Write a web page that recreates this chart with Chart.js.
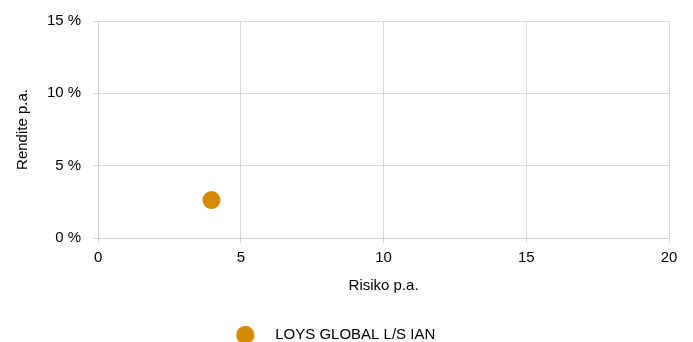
<!DOCTYPE html>
<html>
<head>
<meta charset="utf-8">
<script src="https://cdn.jsdelivr.net/npm/chart.js@4"></script>
<style>
  html, body { margin: 0; padding: 0; background: #fff; }
  #wrap { width: 693px; height: 342px; }
</style>
</head>
<body>
<div id="wrap"><canvas id="chart"></canvas></div>
<script>
const seriesName = 'LOYS GLOBAL L/S IAN';
const riskValues = [3.97];
const returnValues = [2.62];
const xTicks = [0, 5, 10, 15, 20];
const yTicks = [0, 5, 10, 15];
const xTitle = 'Risiko p.a.';
const yTitle = 'Rendite p.a.';

const dotColor = '#d38a00';
const textColor = '#000000';
const fontFamily = '"Liberation Sans", Arial, Helvetica, sans-serif';

// legend marker: circle sitting left of the box centre, so the gap to the text matches
const legendDot = (() => {
  const c = document.createElement('canvas');
  c.width = 44;
  c.height = 20;
  const g = c.getContext('2d');
  g.fillStyle = dotColor;
  g.beginPath();
  g.arc(9.5, 10, 9.2, 0, Math.PI * 2);
  g.fill();
  return c;
})();

const points = riskValues.map((x, i) => ({ x, y: returnValues[i] }));

new Chart(document.getElementById('chart'), {
  type: 'scatter',
  data: {
    datasets: [{
      label: seriesName,
      data: points,
      backgroundColor: dotColor,
      borderColor: dotColor,
      pointRadius: 9,
      pointHoverRadius: 9,
      borderWidth: 0,
    }],
  },
  options: {
    responsive: true,
    maintainAspectRatio: false,
    animation: false,
    // legend runs off the bottom edge in the original, hence the negative padding
    layout: { padding: { top: 12, right: 24, left: 14, bottom: -10.5 } },
    font: { family: fontFamily, size: 15 },
    plugins: {
      tooltip: { enabled: false },
      legend: {
        position: 'bottom',
        labels: {
          color: textColor,
          font: { family: fontFamily, size: 15 },
          usePointStyle: true,
          pointStyle: legendDot,
          pointStyleWidth: 20,
          padding: 4,
          generateLabels: chart => chart.data.datasets.map((ds, i) => ({
            text: ds.label,
            fillStyle: dotColor,
            strokeStyle: dotColor,
            lineWidth: 0,
            pointStyle: legendDot,
            hidden: false,
            datasetIndex: i,
            fontColor: textColor,
          })),
        },
      },
    },
    scales: {
      x: {
        type: 'linear',
        min: xTicks[0],
        max: xTicks[xTicks.length - 1],
        afterBuildTicks: axis => { axis.ticks = xTicks.map(value => ({ value })); },
        ticks: { color: textColor, padding: 6, font: { family: fontFamily, size: 15 } },
        grid: { color: '#d9d9d9', tickLength: 5 },
        border: { color: '#cfcfcf' },
        title: {
          display: true,
          text: xTitle,
          color: textColor,
          font: { family: fontFamily, size: 15 },
          padding: { top: 4, bottom: 28.5 },
        },
      },
      y: {
        type: 'linear',
        min: yTicks[0],
        max: yTicks[yTicks.length - 1],
        afterBuildTicks: axis => { axis.ticks = yTicks.map(value => ({ value })); },
        ticks: {
          color: textColor,
          padding: 12,
          font: { family: fontFamily, size: 15 },
          callback: value => value + ' %',
        },
        grid: { color: '#d9d9d9', tickLength: 5 },
        border: { color: '#cfcfcf' },
        title: {
          display: true,
          text: yTitle,
          color: textColor,
          font: { family: fontFamily, size: 15 },
          padding: { top: 0, bottom: 3 },
        },
      },
    },
  },
});
</script>
</body>
</html>
